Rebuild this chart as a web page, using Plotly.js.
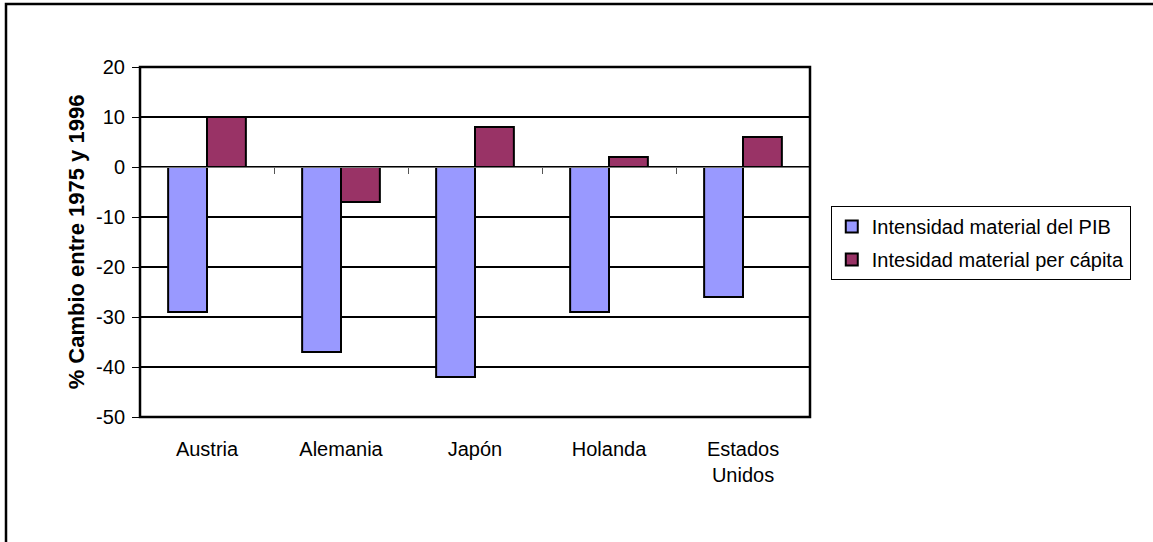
<!DOCTYPE html>
<html>
<head>
<meta charset="utf-8">
<script src="https://cdn.plot.ly/plotly-3.0.1.min.js"></script>
<style>html,body{margin:0;padding:0;background:#fff;}#chart{width:1153px;height:542px;}</style>
</head>
<body>
<div id="chart"></div>
<script>
const categories = ['Austria', 'Alemania', 'Japón', 'Holanda', 'Estados<br>Unidos'];
const seriesNames = ['Intensidad material del PIB', 'Intesidad material per cápita'];
const pibValues = [-29, -37, -42, -29, -26];
const perCapitaValues = [10, -7, 8, 2, 6];
const yTickVals = [-50, -40, -30, -20, -10, 0, 10, 20];
const yTickLabels = ['-50', '-40', '-30', '-20', '-10', '0', '10', '20'];
const yRange = [-50, 20];
const catIdx = categories.map((c, i) => i);
const boundaries = categories.slice(1).map((c, i) => i + 0.5);

const fam = 'Arial, "Liberation Sans", sans-serif';

const traces = [
  {type: 'bar', name: seriesNames[0], x: catIdx, y: pibValues, legendgroup: 'a',
   marker: {color: '#9999FF', line: {color: '#000', width: 2}}},
  {type: 'bar', name: seriesNames[1], x: catIdx, y: perCapitaValues, legendgroup: 'b',
   marker: {color: '#993366', line: {color: '#000', width: 2}}},
  {type: 'scatter', x: [], y: [], xaxis: 'x2', showlegend: false, hoverinfo: 'skip'}
];

const zeroPos = (0 - yRange[0]) / (yRange[1] - yRange[0]);

const layout = {
  width: 1153, height: 542,
  margin: {l: 140, r: 343, t: 67, b: 125},
  paper_bgcolor: '#fff', plot_bgcolor: '#fff',
  font: {family: fam, size: 20, color: '#000'},
  barmode: 'group', bargap: 0.42, bargroupgap: 0,
  showlegend: true,
  legend: {x: 1.031, y: 0.603, xanchor: 'left', yanchor: 'top',
           bordercolor: '#000', borderwidth: 1, bgcolor: '#fff',
           font: {family: fam, size: 20, color: '#000'},
           traceorder: 'grouped', tracegroupgap: 4, itemwidth: 30},
  xaxis: {range: [-0.5, categories.length - 0.5], tickvals: catIdx, ticktext: categories,
          showgrid: false, zeroline: false, showline: false, ticks: '',
          ticklabelstandoff: 18,
          tickfont: {family: fam, size: 20, color: '#000'}},
  xaxis2: {overlaying: 'x', anchor: 'free', position: zeroPos, side: 'bottom',
           range: [-0.5, categories.length - 0.5], tickvals: boundaries,
           showticklabels: false, ticks: 'outside', ticklen: 6, tickwidth: 1, tickcolor: '#555',
           showline: true, linecolor: '#777', linewidth: 1, showgrid: false, zeroline: false},
  yaxis: {range: yRange, tickvals: yTickVals, ticktext: yTickLabels,
          ticks: 'outside', ticklen: 7, tickwidth: 1,
          tickcolor: '#000', showgrid: true, gridcolor: '#000', gridwidth: 2,
          zeroline: false, showline: false, ticklabelstandoff: 3,
          tickfont: {family: fam, size: 20, color: '#000'},
          title: {text: '% Cambio entre 1975 y 1996', standoff: 5,
                  font: {family: fam, size: 22, color: '#000', weight: 'bold'}}},
  shapes: [
    {type: 'rect', xref: 'paper', yref: 'paper', x0: 0, x1: 1, y0: 0, y1: 1,
     line: {color: '#000', width: 2.5}, fillcolor: 'rgba(0,0,0,0)', layer: 'above'},
    {type: 'rect', xref: 'paper', yref: 'paper',
     x0: -0.2, x1: 1.6, y0: -0.5, y1: 1.18,
     line: {color: '#000', width: 2.5}, fillcolor: 'rgba(0,0,0,0)'}
  ]
};

Plotly.newPlot('chart', traces, layout, {displayModeBar: false, staticPlot: true});
</script>
</body>
</html>
